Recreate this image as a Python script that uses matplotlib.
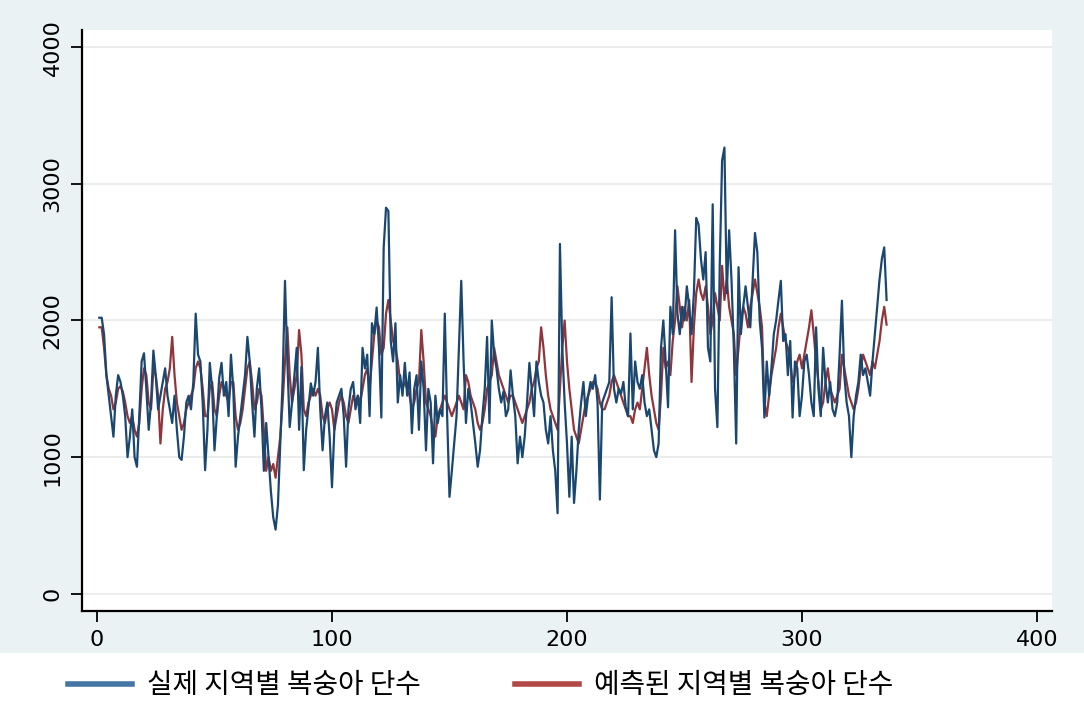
import numpy as np
import matplotlib.pyplot as plt
from matplotlib.lines import Line2D
from matplotlib.patches import Rectangle

# actual and predicted values (index 1..336)
actual = [2020, 2020, 1900, 1600, 1450, 1300, 1150, 1450, 1600, 1550, 1450, 1300, 1000, 1150, 1350, 1000, 930, 1300, 1700, 1760,
          1500, 1200, 1400, 1780, 1600, 1350, 1450, 1550, 1650, 1450, 1350, 1250, 1450, 1200, 1000, 980, 1150, 1400, 1450, 1350,
          1550, 2050, 1750, 1700, 1390, 905, 1200, 1690, 1500, 1050, 1300, 1580, 1690, 1450, 1550, 1300, 1750, 1500, 930, 1150,
          1300, 1450, 1600, 1880, 1700, 1400, 1150, 1500, 1650, 1350, 900, 1250, 1000, 750, 560, 470, 650, 1100, 1560, 2290,
          1700, 1220, 1400, 1600, 1800, 1200, 1660, 905, 1200, 1365, 1540, 1450, 1550, 1800, 1350, 1050, 1300, 1400, 1150, 780,
          1200, 1400, 1450, 1500, 1300, 930, 1350, 1500, 1550, 1350, 1450, 1250, 1800, 1650, 1750, 1300, 1980, 1900, 2095, 1800,
          1290, 2535, 2825, 2800, 1850, 1700, 1980, 1400, 1600, 1450, 1690, 1450, 1620, 1175, 1500, 1600, 1200, 1700, 1500, 1050,
          1500, 1400, 955, 1450, 1250, 1350, 1300, 2050, 1300, 710, 900, 1100, 1300, 1800, 2290, 1700, 1250, 1500, 1400, 1250,
          1100, 930, 1050, 1300, 1500, 1880, 1250, 2000, 1750, 1650, 1500, 1400, 1480, 1300, 1350, 1635, 1450, 1300, 955, 1150,
          1000, 1150, 1400, 1690, 1500, 1300, 1700, 1550, 1450, 1400, 1200, 1100, 1300, 1050, 900, 590, 2560, 1800, 1400, 1100,
          710, 1150, 665, 900, 1200, 1400, 1550, 1300, 1450, 1550, 1500, 1600, 1400, 690, 1400, 1450, 1500, 1550, 2170, 1500,
          1400, 1500, 1465, 1550, 1365, 1300, 1905, 1350, 1700, 1550, 1500, 1600, 1400, 1300, 1350, 1200, 1050, 1000, 1100, 1800,
          2000, 1700, 1365, 2100, 1900, 2660, 2050, 1900, 2100, 2000, 2250, 2100, 1900, 2200, 2750, 2700, 2450, 2300, 2500, 1800,
          1700, 2850, 1500, 1220, 2400, 3170, 3265, 2200, 2660, 2300, 1800, 1100, 2390, 1900, 2100, 2250, 2100, 1950, 2300, 2640,
          2500, 2000, 1800, 1290, 1700, 1450, 1650, 1900, 2000, 2150, 2290, 1850, 1900, 1600, 1850, 1290, 1700, 1650, 1300, 1450,
          1700, 1750, 1600, 1400, 1300, 1950, 1500, 1300, 1800, 1550, 1400, 1550, 1350, 1300, 1400, 1750, 2145, 1600, 1400, 1300,
          1000, 1300, 1450, 1550, 1750, 1600, 1650, 1550, 1450, 1700, 1900, 2100, 2300, 2450, 2535, 2150]

predicted = [1950, 1950, 1800, 1600, 1500, 1450, 1350, 1400, 1500, 1520, 1480, 1400, 1300, 1250, 1300, 1200, 1150, 1250, 1500, 1650,
             1600, 1400, 1350, 1650, 1600, 1450, 1100, 1350, 1500, 1550, 1650, 1880, 1600, 1400, 1300, 1200, 1250, 1350, 1400, 1450,
             1500, 1650, 1700, 1650, 1500, 1300, 1300, 1500, 1550, 1350, 1300, 1450, 1550, 1500, 1450, 1400, 1550, 1550, 1300, 1200,
             1250, 1350, 1500, 1650, 1700, 1550, 1350, 1400, 1500, 1450, 1200, 900, 1000, 900, 950, 850, 1000, 1150, 1400, 1700,
             1950, 1600, 1400, 1500, 1600, 1930, 1750, 1350, 1300, 1400, 1450, 1500, 1450, 1500, 1450, 1300, 1250, 1350, 1400, 1350,
             1200, 1300, 1400, 1450, 1400, 1300, 1250, 1350, 1450, 1400, 1450, 1400, 1500, 1600, 1650, 1500, 1700, 1900, 2000, 1950,
             1750, 1800, 2050, 2150, 2000, 1850, 1800, 1700, 1550, 1500, 1550, 1500, 1450, 1350, 1400, 1500, 1550, 1930, 1700, 1400,
             1350, 1300, 1200, 1150, 1300, 1350, 1400, 1450, 1400, 1350, 1300, 1350, 1400, 1450, 1400, 1350, 1600, 1550, 1450, 1400,
             1350, 1250, 1200, 1250, 1350, 1500, 1550, 1600, 1800, 1700, 1600, 1550, 1500, 1450, 1400, 1450, 1450, 1400, 1350, 1300,
             1250, 1300, 1350, 1400, 1500, 1550, 1650, 1700, 1950, 1800, 1600, 1450, 1350, 1300, 1250, 1200, 1500, 1800, 2000, 1700,
             1500, 1350, 1200, 1150, 1100, 1200, 1300, 1400, 1450, 1500, 1550, 1550, 1500, 1400, 1350, 1350, 1400, 1450, 1550, 1600,
             1550, 1500, 1450, 1400, 1350, 1300, 1300, 1250, 1350, 1400, 1350, 1500, 1650, 1800, 1600, 1450, 1350, 1250, 1200, 1450,
             1800, 1650, 1700, 1600, 1850, 2000, 2250, 2100, 1950, 2100, 2000, 2150, 1550, 1950, 2200, 2300, 2200, 2150, 2250, 2100,
             1900, 2000, 2200, 2100, 2000, 2400, 2150, 2300, 2100, 2000, 1900, 1600, 1800, 2000, 2100, 2050, 1950, 2100, 2200, 2300,
             2200, 2100, 1950, 1400, 1300, 1450, 1600, 1700, 1800, 1950, 2050, 1950, 1850, 1800, 1700, 1550, 1600, 1700, 1750, 1650,
             1750, 1850, 1950, 2075, 1900, 1700, 1550, 1350, 1400, 1550, 1650, 1500, 1450, 1400, 1450, 1500, 1750, 1650, 1550, 1450,
             1400, 1350, 1400, 1500, 1650, 1750, 1700, 1650, 1600, 1700, 1650, 1750, 1850, 2000, 2100, 1970]

t = np.arange(1, len(actual) + 1)
xticks = [0, 100, 200, 300, 400]
yticks = [0, 1000, 2000, 3000, 4000]
labels = ['실제 지역별 복숭아 단수', '예측된 지역별 복숭아 단수']

bg = '#eaf2f3'
blue = '#1a476f'
red = '#90353b'

fig = plt.figure(figsize=(10.84, 7.14), dpi=100, facecolor=bg)
fig.patches.append(Rectangle((0, 0), 1, 0.086, transform=fig.transFigure,
                             facecolor='white', edgecolor='none', zorder=0))
ax = fig.add_axes([0.0756, 0.1443, 0.8949, 0.8137])
ax.set_facecolor('white')

ax.plot(t, actual, color=blue, lw=1.6, zorder=3)
ax.plot(t, predicted, color=red, lw=1.6, zorder=2)

ax.set_xlim(-6.4, 406.4)
ax.set_ylim(-125, 4125)
ax.set_xticks(xticks)
ax.set_yticks(yticks)
ax.grid(axis='y', color='#e8eaea', lw=1.2, zorder=0)

ax.set_xticklabels([str(v) for v in xticks], fontsize=16)
ax.set_yticklabels([str(v) for v in yticks], fontsize=16, rotation=90, va='center')
ax.tick_params(length=8, width=1.3, color='black', pad=6)

for s in ['top', 'right']:
    ax.spines[s].set_visible(False)
for s in ['left', 'bottom']:
    ax.spines[s].set_linewidth(1.6)

handles = [Line2D([], [], color='#4575a5', lw=4),
           Line2D([], [], color='#b34848', lw=4)]
fig.legend(handles, labels, loc='center left', bbox_to_anchor=(0.0627, 0.040),
           ncol=2, frameon=False, handlelength=2.3, handletextpad=0.55,
           columnspacing=3.4, borderpad=0, borderaxespad=0,
           prop={'family': ['Noto Sans CJK KR', 'DejaVu Sans'], 'size': 20})

fig.savefig('out.png', dpi=100, facecolor=bg)
